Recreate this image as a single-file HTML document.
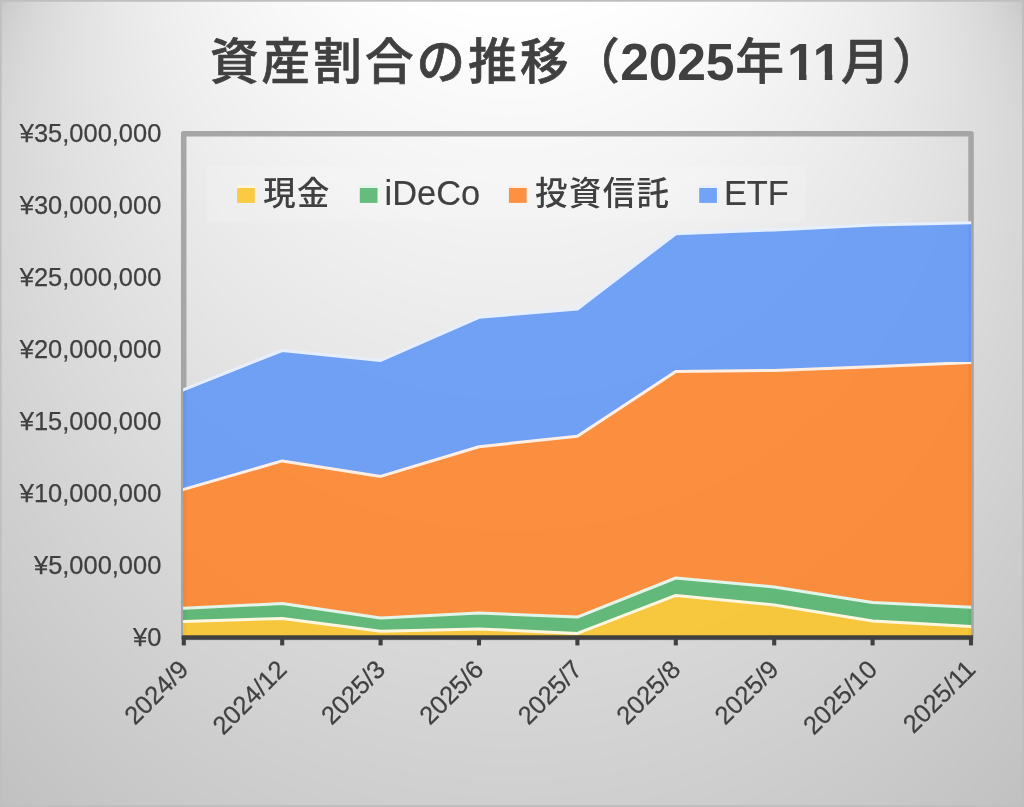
<!DOCTYPE html>
<html lang="ja">
<head>
<meta charset="utf-8">
<title>資産割合の推移（2025年11月）</title>
<style>
html,body{margin:0;padding:0;background:#cfcfcf;}
body{width:1024px;height:807px;overflow:hidden;}
svg{display:block;}
text{font-family:"Liberation Sans","Noto Sans CJK JP",sans-serif;fill:#404040;}
.title{font-weight:bold;}
.cj{font-size:48.5px;font-weight:500;stroke:#404040;stroke-width:0.7px;}
.dg{font-size:51.65px;}
.ax{font-size:25.45px;stroke:#404040;stroke-width:0.25px;}
.ll{font-size:34.4px;stroke:#404040;stroke-width:0.15px;}
.lc{font-size:32.4px;font-weight:500;}
</style>
</head>
<body>
<svg width="1024" height="807" viewBox="0 0 1024 807">
<defs>
<clipPath id="tc"><rect x="0" y="0" width="1024" height="72.6"/><rect x="0" y="72.6" width="789.2" height="30"/><rect x="799.0" y="72.6" width="7.5" height="30"/><rect x="824.8" y="72.6" width="7.5" height="30"/><rect x="841.5" y="72.6" width="180" height="30"/></clipPath>
<clipPath id="cc"><rect x="0" y="0" width="1024" height="807"/></clipPath>
<clipPath id="pc"><rect x="183.1" y="133.8" width="788.1" height="503.7"/></clipPath>
</defs>
<rect x="0" y="0" width="1024" height="807" fill="rgb(191,191,191)"/>
<g clip-path="url(#cc)">
<ellipse cx="512" cy="413.2" rx="666.1" ry="651.0" fill="rgb(192,192,192)"/>
<ellipse cx="512" cy="403.2" rx="659.4" ry="644.4" fill="rgb(193,193,193)"/>
<ellipse cx="512" cy="393.1" rx="652.7" ry="637.9" fill="rgb(194,194,194)"/>
<ellipse cx="512" cy="383.1" rx="645.9" ry="631.3" fill="rgb(195,195,195)"/>
<ellipse cx="512" cy="373.0" rx="639.2" ry="624.7" fill="rgb(196,196,196)"/>
<ellipse cx="512" cy="363.0" rx="632.4" ry="618.1" fill="rgb(197,197,197)"/>
<ellipse cx="512" cy="352.9" rx="625.7" ry="611.5" fill="rgb(198,198,198)"/>
<ellipse cx="512" cy="342.9" rx="619.0" ry="604.9" fill="rgb(199,199,199)"/>
<ellipse cx="512" cy="332.8" rx="612.2" ry="598.4" fill="rgb(200,200,200)"/>
<ellipse cx="512" cy="322.8" rx="605.5" ry="591.8" fill="rgb(201,201,201)"/>
<ellipse cx="512" cy="312.7" rx="598.8" ry="585.2" fill="rgb(202,202,202)"/>
<ellipse cx="512" cy="302.7" rx="592.0" ry="578.6" fill="rgb(203,203,203)"/>
<ellipse cx="512" cy="292.6" rx="585.3" ry="572.0" fill="rgb(204,204,204)"/>
<ellipse cx="512" cy="282.6" rx="578.6" ry="565.4" fill="rgb(205,205,205)"/>
<ellipse cx="512" cy="272.5" rx="571.8" ry="558.9" fill="rgb(206,206,206)"/>
<ellipse cx="512" cy="262.5" rx="565.1" ry="552.3" fill="rgb(207,207,207)"/>
<ellipse cx="512" cy="252.4" rx="558.3" ry="545.7" fill="rgb(208,208,208)"/>
<ellipse cx="512" cy="242.4" rx="551.6" ry="539.1" fill="rgb(209,209,209)"/>
<ellipse cx="512" cy="232.3" rx="544.9" ry="532.5" fill="rgb(210,210,210)"/>
<ellipse cx="512" cy="222.3" rx="538.1" ry="525.9" fill="rgb(211,211,211)"/>
<ellipse cx="512" cy="212.2" rx="531.4" ry="519.3" fill="rgb(212,212,212)"/>
<ellipse cx="512" cy="202.2" rx="524.7" ry="512.8" fill="rgb(213,213,213)"/>
<ellipse cx="512" cy="192.1" rx="517.9" ry="506.2" fill="rgb(214,214,214)"/>
<ellipse cx="512" cy="182.1" rx="511.2" ry="499.6" fill="rgb(215,215,215)"/>
<ellipse cx="512" cy="172.0" rx="504.4" ry="493.0" fill="rgb(216,216,216)"/>
<ellipse cx="512" cy="162.0" rx="497.7" ry="486.4" fill="rgb(217,217,217)"/>
<ellipse cx="512" cy="151.9" rx="491.0" ry="479.8" fill="rgb(218,218,218)"/>
<ellipse cx="512" cy="141.9" rx="484.2" ry="473.3" fill="rgb(219,219,219)"/>
<ellipse cx="512" cy="131.8" rx="477.5" ry="466.7" fill="rgb(220,220,220)"/>
<ellipse cx="512" cy="121.8" rx="470.8" ry="460.1" fill="rgb(221,221,221)"/>
<ellipse cx="512" cy="111.7" rx="464.0" ry="453.5" fill="rgb(222,222,222)"/>
<ellipse cx="512" cy="101.7" rx="457.3" ry="446.9" fill="rgb(223,223,223)"/>
<ellipse cx="512" cy="91.6" rx="450.6" ry="440.3" fill="rgb(224,224,224)"/>
<ellipse cx="512" cy="81.6" rx="443.8" ry="433.8" fill="rgb(225,225,225)"/>
<ellipse cx="512" cy="71.5" rx="437.1" ry="427.2" fill="rgb(226,226,226)"/>
<ellipse cx="512" cy="61.5" rx="430.3" ry="420.6" fill="rgb(227,227,227)"/>
<ellipse cx="512" cy="51.4" rx="423.6" ry="414.0" fill="rgb(228,228,228)"/>
<ellipse cx="512" cy="41.4" rx="416.9" ry="407.4" fill="rgb(229,229,229)"/>
<ellipse cx="512" cy="31.3" rx="410.1" ry="400.8" fill="rgb(230,230,230)"/>
<ellipse cx="512" cy="21.3" rx="403.4" ry="394.2" fill="rgb(231,231,231)"/>
<ellipse cx="512" cy="11.2" rx="396.7" ry="387.7" fill="rgb(232,232,232)"/>
<ellipse cx="512" cy="1.2" rx="389.9" ry="381.1" fill="rgb(233,233,233)"/>
<ellipse cx="512" cy="-8.9" rx="383.2" ry="374.5" fill="rgb(234,234,234)"/>
<ellipse cx="512" cy="-18.9" rx="376.4" ry="367.9" fill="rgb(235,235,235)"/>
<ellipse cx="512" cy="-29.0" rx="369.7" ry="361.3" fill="rgb(236,236,236)"/>
<ellipse cx="512" cy="-39.0" rx="363.0" ry="354.7" fill="rgb(237,237,237)"/>
<ellipse cx="512" cy="-49.1" rx="356.2" ry="348.2" fill="rgb(238,238,238)"/>
<ellipse cx="512" cy="-59.1" rx="349.5" ry="341.6" fill="rgb(239,239,239)"/>
<ellipse cx="512" cy="-69.2" rx="342.8" ry="335.0" fill="rgb(240,240,240)"/>
<ellipse cx="512" cy="-79.3" rx="336.0" ry="328.4" fill="rgb(241,241,241)"/>
<ellipse cx="512" cy="-89.3" rx="329.3" ry="321.8" fill="rgb(242,242,242)"/>
<ellipse cx="512" cy="-99.4" rx="322.6" ry="315.2" fill="rgb(243,243,243)"/>
<ellipse cx="512" cy="-109.4" rx="315.8" ry="308.7" fill="rgb(244,244,244)"/>
<ellipse cx="512" cy="-119.5" rx="309.1" ry="302.1" fill="rgb(245,245,245)"/>
<ellipse cx="512" cy="-129.5" rx="302.3" ry="295.5" fill="rgb(246,246,246)"/>
<ellipse cx="512" cy="-139.6" rx="295.6" ry="288.9" fill="rgb(247,247,247)"/>
<ellipse cx="512" cy="-149.6" rx="288.9" ry="282.3" fill="rgb(248,248,248)"/>
<ellipse cx="512" cy="-159.7" rx="282.1" ry="275.7" fill="rgb(249,249,249)"/>
<ellipse cx="512" cy="-169.7" rx="275.4" ry="269.2" fill="rgb(250,250,250)"/>
<ellipse cx="512" cy="-179.8" rx="268.7" ry="262.6" fill="rgb(251,251,251)"/>
<ellipse cx="512" cy="-189.8" rx="261.9" ry="256.0" fill="rgb(252,252,252)"/>
<ellipse cx="512" cy="-199.9" rx="255.2" ry="249.4" fill="rgb(253,253,253)"/>
<ellipse cx="512" cy="-209.9" rx="248.4" ry="242.8" fill="rgb(254,254,254)"/>
<ellipse cx="512" cy="-220.0" rx="241.7" ry="236.2" fill="rgb(255,255,255)"/>
</g>
<path d="M0 0H1024V807H0Z M1.7 1.7V805.0H1022.0V1.7Z" fill="#bfbfbf" fill-rule="evenodd"/>
<rect x="183.7" y="133.8" width="787.35" height="503.7" fill="none" stroke="#a6a6a6" stroke-width="5.5" stroke-linejoin="round"/>
<text class="title" y="79.4" clip-path="url(#tc)"><tspan class="cj" x="210.0 261.6 313.3 364.9 416.6 468.2 519.9 571.3">資産割合の推移（</tspan><tspan class="dg" x="620.2 648.7 677.2 705.7" dy="0.4">2025</tspan><tspan class="cj" x="735.5" dy="-0.4">年</tspan><tspan class="dg" x="787 812.8" dy="0.4">11</tspan><tspan class="cj" x="841 892.3" dy="-0.4">月）</tspan></text>
<text class="ax" x="161.3" y="645.8" text-anchor="end">¥0</text>
<text class="ax" x="161.3" y="573.8" text-anchor="end">¥5,000,000</text>
<text class="ax" x="161.3" y="501.9" text-anchor="end">¥10,000,000</text>
<text class="ax" x="161.3" y="429.9" text-anchor="end">¥15,000,000</text>
<text class="ax" x="161.3" y="358.0" text-anchor="end">¥20,000,000</text>
<text class="ax" x="161.3" y="286.0" text-anchor="end">¥25,000,000</text>
<text class="ax" x="161.3" y="214.1" text-anchor="end">¥30,000,000</text>
<text class="ax" x="161.3" y="142.1" text-anchor="end">¥35,000,000</text>
<rect x="207.0" y="166.2" width="599.0" height="55.0" fill="#ffffff" fill-opacity="0.15"/>
<rect x="237.1" y="188" width="17.7" height="14.9" fill="#FACA42"/><rect x="237.1" y="185.2" width="17.7" height="2.8" fill="#FFF6E0"/><text class="lc" x="263.2 296.9" y="205.0">現金</text>
<rect x="359.8" y="188" width="17.7" height="14.9" fill="#66BC7D"/><rect x="359.8" y="185.2" width="17.7" height="2.8" fill="#E3F5EB"/><text class="ll" x="384.6" y="204.8">iDeCo</text>
<rect x="508.9" y="188" width="17.7" height="14.9" fill="#FD9041"/><rect x="508.9" y="185.2" width="17.7" height="2.8" fill="#FFEFE3"/><text class="lc" x="535.0 568.9 602.7 636.5" y="205.0">投資信託</text>
<rect x="699.2" y="188" width="17.7" height="14.9" fill="#73A3F6"/><rect x="699.2" y="185.2" width="17.7" height="2.8" fill="#E6EFFF"/><text class="ll" x="723.9" y="204.8">ETF</text>
<g clip-path="url(#pc)">
<polygon points="182.3,390.3 183.8,389.7 282.2,350.5 380.6,360.5 479.0,317.3 577.4,309.0 675.8,233.7 774.2,229.9 872.6,225.1 971.0,222.8 972.5,222.8 972.5,362.4 971.0,362.5 872.6,366.7 774.2,370.4 675.8,371.5 577.4,436.2 479.0,446.7 380.6,476.4 282.2,460.9 183.8,489.4 182.3,489.8" fill="rgb(96,150,246)" fill-opacity="0.88"/>
<polyline points="182.3,390.3 183.8,389.7 282.2,350.5 380.6,360.5 479.0,317.3 577.4,309.0 675.8,233.7 774.2,229.9 872.6,225.1 971.0,222.8 972.5,222.8" fill="none" stroke="#E6EFFF" stroke-width="3" stroke-linejoin="round"/>
<polygon points="182.3,489.8 183.8,489.4 282.2,460.9 380.6,476.4 479.0,446.7 577.4,436.2 675.8,371.5 774.2,370.4 872.6,366.7 971.0,362.5 972.5,362.4 972.5,607.3 971.0,607.2 872.6,602.5 774.2,586.9 675.8,578.0 577.4,617.1 479.0,613.0 380.6,618.1 282.2,603.6 183.8,608.2 182.3,608.3" fill="rgb(255,131,40)" fill-opacity="0.88"/>
<polyline points="182.3,489.8 183.8,489.4 282.2,460.9 380.6,476.4 479.0,446.7 577.4,436.2 675.8,371.5 774.2,370.4 872.6,366.7 971.0,362.5 972.5,362.4" fill="none" stroke="#FFEFE3" stroke-width="3" stroke-linejoin="round"/>
<polygon points="182.3,608.3 183.8,608.2 282.2,603.6 380.6,618.1 479.0,613.0 577.4,617.1 675.8,578.0 774.2,586.9 872.6,602.5 971.0,607.2 972.5,607.3 972.5,626.6 971.0,626.5 872.6,621.1 774.2,604.9 675.8,595.4 577.4,633.4 479.0,628.9 380.6,631.3 282.2,618.4 183.8,621.6 182.3,621.6" fill="rgb(82,180,108)" fill-opacity="0.88"/>
<polyline points="182.3,608.3 183.8,608.2 282.2,603.6 380.6,618.1 479.0,613.0 577.4,617.1 675.8,578.0 774.2,586.9 872.6,602.5 971.0,607.2 972.5,607.3" fill="none" stroke="#E3F5EB" stroke-width="3" stroke-linejoin="round"/>
<polygon points="182.3,621.6 183.8,621.6 282.2,618.4 380.6,631.3 479.0,628.9 577.4,633.4 675.8,595.4 774.2,604.9 872.6,621.1 971.0,626.5 972.5,626.6 972.5,637.5 971.0,637.5 872.6,637.5 774.2,637.5 675.8,637.5 577.4,637.5 479.0,637.5 380.6,637.5 282.2,637.5 183.8,637.5 182.3,637.5" fill="rgb(251,196,39)" fill-opacity="0.88"/>
<polyline points="182.3,621.6 183.8,621.6 282.2,618.4 380.6,631.3 479.0,628.9 577.4,633.4 675.8,595.4 774.2,604.9 872.6,621.1 971.0,626.5 972.5,626.6" fill="none" stroke="#FFF6E0" stroke-width="3" stroke-linejoin="round"/>
</g>
<line x1="181.8" y1="637.5" x2="972.95" y2="637.5" stroke="#404040" stroke-width="4.4"/>
<line x1="183.8" y1="637.5" x2="183.8" y2="645.4" stroke="#404040" stroke-width="4.1"/>
<line x1="282.2" y1="637.5" x2="282.2" y2="645.4" stroke="#404040" stroke-width="4.1"/>
<line x1="380.6" y1="637.5" x2="380.6" y2="645.4" stroke="#404040" stroke-width="4.1"/>
<line x1="479.0" y1="637.5" x2="479.0" y2="645.4" stroke="#404040" stroke-width="4.1"/>
<line x1="577.4" y1="637.5" x2="577.4" y2="645.4" stroke="#404040" stroke-width="4.1"/>
<line x1="675.8" y1="637.5" x2="675.8" y2="645.4" stroke="#404040" stroke-width="4.1"/>
<line x1="774.2" y1="637.5" x2="774.2" y2="645.4" stroke="#404040" stroke-width="4.1"/>
<line x1="872.6" y1="637.5" x2="872.6" y2="645.4" stroke="#404040" stroke-width="4.1"/>
<line x1="971.0" y1="637.5" x2="971.0" y2="645.4" stroke="#404040" stroke-width="4.1"/>
<text class="ax" text-anchor="end" transform="translate(189.9 670.9) rotate(-45)" x="0" y="0">2024/9</text>
<text class="ax" text-anchor="end" transform="translate(288.3 670.9) rotate(-45)" x="0" y="0">2024/12</text>
<text class="ax" text-anchor="end" transform="translate(386.7 670.9) rotate(-45)" x="0" y="0">2025/3</text>
<text class="ax" text-anchor="end" transform="translate(485.1 670.9) rotate(-45)" x="0" y="0">2025/6</text>
<text class="ax" text-anchor="end" transform="translate(583.5 670.9) rotate(-45)" x="0" y="0">2025/7</text>
<text class="ax" text-anchor="end" transform="translate(681.9 670.9) rotate(-45)" x="0" y="0">2025/8</text>
<text class="ax" text-anchor="end" transform="translate(780.3 670.9) rotate(-45)" x="0" y="0">2025/9</text>
<text class="ax" text-anchor="end" transform="translate(878.7 670.9) rotate(-45)" x="0" y="0">2025/10</text>
<text class="ax" text-anchor="end" transform="translate(977.1 670.9) rotate(-45)" x="0" y="0">2025/11</text>
</svg>
</body>
</html>
